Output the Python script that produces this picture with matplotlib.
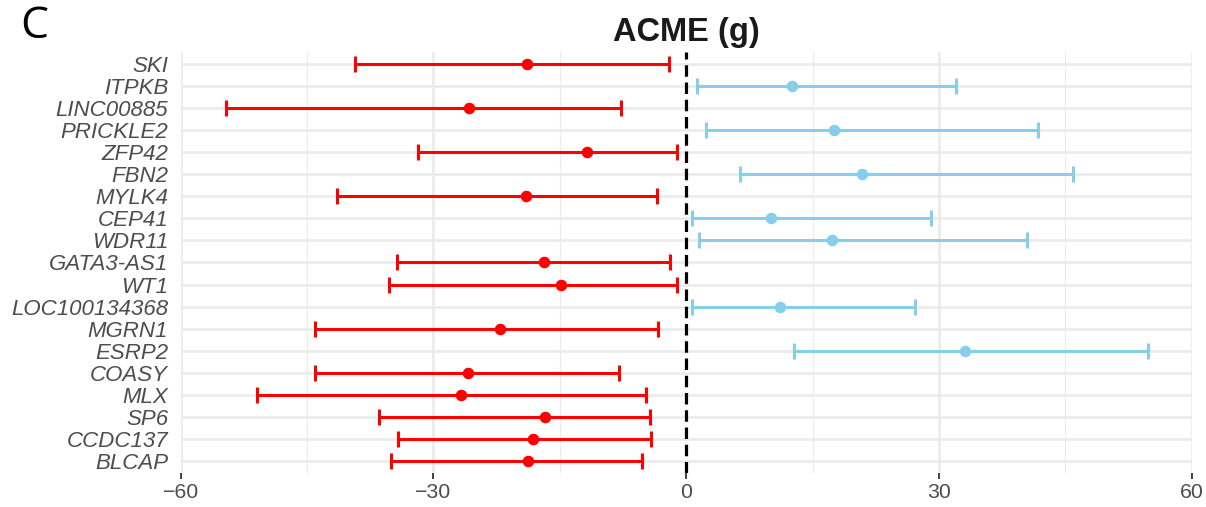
#! /usr/bin/env python3

import matplotlib
matplotlib.use("Agg")
import matplotlib.pyplot as plt
import numpy as np

# genes listed top to bottom
genes = ["SKI", "ITPKB", "LINC00885", "PRICKLE2", "ZFP42", "FBN2", "MYLK4",
         "CEP41", "WDR11", "GATA3-AS1", "WT1", "LOC100134368", "MGRN1",
         "ESRP2", "COASY", "MLX", "SP6", "CCDC137", "BLCAP"]
estimate = [-18.9, 12.6, -25.8, 17.5, -11.8, 20.9, -19.0, 10.1, 17.3, -16.9,
            -14.9, 11.1, -22.1, 33.1, -25.9, -26.7, -16.7, -18.2, -18.8]
lower = [-39.3, 1.3, -54.6, 2.3, -31.8, 6.4, -41.4, 0.7, 1.5, -34.3,
         -35.3, 0.7, -44.1, 12.8, -44.0, -50.9, -36.5, -34.2, -35.0]
upper = [-2.0, 32.0, -7.7, 41.7, -1.1, 45.9, -3.5, 29.1, 40.5, -1.9,
         -1.1, 27.1, -3.4, 54.8, -8.0, -4.8, -4.3, -4.2, -5.2]

fig = plt.figure(figsize=(12.06, 5.07), dpi=100)
ax = fig.add_axes([0.1497, 0.0671, 0.8385, 0.8304])

n = len(genes)
ypos = np.arange(n)[::-1]

# grid
for x in [-45, -15, 15, 45]:
    ax.axvline(x, color="#EBEBEB", lw=0.8, zorder=0)
for x in [-60, -30, 30, 60]:
    ax.axvline(x, color="#EBEBEB", lw=1.9, zorder=0)
for y in ypos:
    ax.axhline(y, color="#EBEBEB", lw=1.9, zorder=0)

for i in range(n):
    col = "#FF0000" if estimate[i] < 0 else "#87CEEB"
    est = estimate[i]
    ax.errorbar(est, ypos[i], xerr=[[est - lower[i]], [upper[i] - est]],
                fmt="o", color=col, ms=7.3, elinewidth=2.2, capsize=6,
                capthick=2.2, zorder=3)

ax.axvline(0, color="black", lw=2.3, ls=(0, (3.6, 1.8)), zorder=4)

ax.set_xlim(-60, 60)
ax.set_ylim(-0.55, n - 1 + 0.55)
ax.set_xticks([-60, -30, 0, 30, 60])
ax.set_xticklabels(["\u221260", "\u221230", "0", "30", "60"])
ax.set_yticks(ypos)
ax.set_yticklabels(genes)

for s in ax.spines.values():
    s.set_visible(False)

ax.tick_params(axis="x", length=4, width=1.3, color="#333333", pad=3,
               labelsize=15.3, labelcolor="#4D4D4D")
ax.tick_params(axis="y", length=0, pad=9, labelsize=16, labelcolor="#4D4D4D")
for lab in ax.get_yticklabels():
    lab.set_fontstyle("italic")
    lab.set_fontfamily("Liberation Sans")
for lab in ax.get_xticklabels():
    lab.set_fontfamily("Liberation Sans")

ax.set_title("ACME (g)", fontsize=23.5, fontweight="bold",
             fontfamily="Liberation Sans", color="#1A1A1A", pad=8)

fig.text(0.017, 0.948, "C", fontsize=32, fontfamily="Open Sans", va="center")

fig.savefig("out.png", dpi=100)
